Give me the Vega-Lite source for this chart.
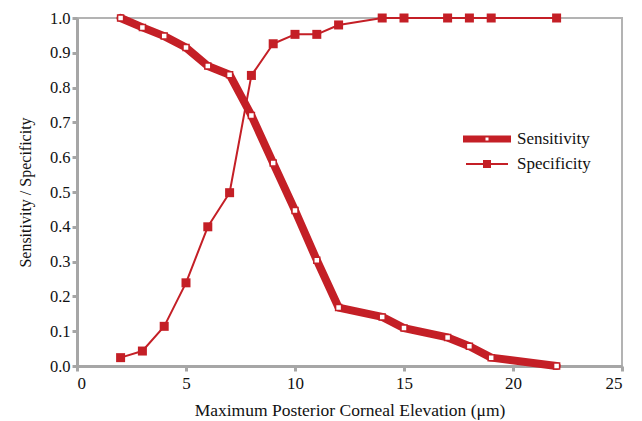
{
  "$schema": "https://vega.github.io/schema/vega-lite/v6.json",
  "width": 545,
  "height": 348,
  "autosize": {"type": "none"},
  "padding": {"left": 77, "top": 18, "right": 20, "bottom": 55},
  "background": "white",
  "config": {
    "view": {"stroke": "#b3b3b3", "strokeWidth": 2},
    "font": "Liberation Serif, serif",
    "axis": {
      "domainColor": "#a6a6a6",
      "domainWidth": 3,
      "tickColor": "#a6a6a6",
      "tickWidth": 3,
      "tickSize": 5,
      "grid": false,
      "labelFont": "Liberation Serif, serif",
      "labelColor": "#111111",
      "titleFont": "Liberation Serif, serif",
      "titleFontWeight": "normal",
      "titleColor": "#111111"
    }
  },
  "data": {
    "values": [
      {"x": 2, "value": 1.0, "series": "Sensitivity"},
      {"x": 3, "value": 0.973, "series": "Sensitivity"},
      {"x": 4, "value": 0.948, "series": "Sensitivity"},
      {"x": 5, "value": 0.915, "series": "Sensitivity"},
      {"x": 6, "value": 0.862, "series": "Sensitivity"},
      {"x": 7, "value": 0.837, "series": "Sensitivity"},
      {"x": 8, "value": 0.72, "series": "Sensitivity"},
      {"x": 9, "value": 0.583, "series": "Sensitivity"},
      {"x": 10, "value": 0.447, "series": "Sensitivity"},
      {"x": 11, "value": 0.304, "series": "Sensitivity"},
      {"x": 12, "value": 0.168, "series": "Sensitivity"},
      {"x": 14, "value": 0.141, "series": "Sensitivity"},
      {"x": 15, "value": 0.109, "series": "Sensitivity"},
      {"x": 17, "value": 0.082, "series": "Sensitivity"},
      {"x": 18, "value": 0.057, "series": "Sensitivity"},
      {"x": 19, "value": 0.024, "series": "Sensitivity"},
      {"x": 22, "value": 0.0, "series": "Sensitivity"},
      {"x": 2, "value": 0.024, "series": "Specificity"},
      {"x": 3, "value": 0.043, "series": "Specificity"},
      {"x": 4, "value": 0.114, "series": "Specificity"},
      {"x": 5, "value": 0.239, "series": "Specificity"},
      {"x": 6, "value": 0.4, "series": "Specificity"},
      {"x": 7, "value": 0.498, "series": "Specificity"},
      {"x": 8, "value": 0.835, "series": "Specificity"},
      {"x": 9, "value": 0.926, "series": "Specificity"},
      {"x": 10, "value": 0.953, "series": "Specificity"},
      {"x": 11, "value": 0.953, "series": "Specificity"},
      {"x": 12, "value": 0.98, "series": "Specificity"},
      {"x": 14, "value": 1.0, "series": "Specificity"},
      {"x": 15, "value": 1.0, "series": "Specificity"},
      {"x": 17, "value": 1.0, "series": "Specificity"},
      {"x": 18, "value": 1.0, "series": "Specificity"},
      {"x": 19, "value": 1.0, "series": "Specificity"},
      {"x": 22, "value": 1.0, "series": "Specificity"}
    ]
  },
  "encoding": {
    "x": {
      "field": "x",
      "type": "quantitative",
      "scale": {"domain": [0, 25], "nice": false},
      "axis": {
        "title": "Maximum Posterior Corneal Elevation (μm)",
        "values": [0, 5, 10, 15, 20, 25],
        "labelFont": "Liberation Serif, serif",
        "labelFontSize": 17,
        "titleFontSize": 17.5,
        "labelPadding": 4,
        "titlePadding": 10
      }
    },
    "y": {
      "field": "value",
      "type": "quantitative",
      "scale": {"domain": [0, 1], "nice": false},
      "axis": {
        "title": "Sensitivity / Specificity",
        "values": [0, 0.1, 0.2, 0.3, 0.4, 0.5, 0.6, 0.7, 0.8, 0.9, 1.0],
        "format": ".1f",
        "labelFont": "Liberation Serif, serif",
        "labelFontSize": 16.5,
        "titleFontSize": 16,
        "labelPadding": 2,
        "titlePadding": 16
      }
    }
  },
  "layer": [
    {
      "transform": [{"filter": "datum.series === 'Sensitivity'"}],
      "mark": {"type": "line", "strokeWidth": 8, "strokeJoin": "round", "strokeCap": "round"},
      "encoding": {
        "color": {
          "field": "series",
          "type": "nominal",
          "scale": {"domain": ["Sensitivity", "Specificity"], "range": ["#c41f26", "#c41f26"]},
          "legend": {
            "orient": "none",
            "legendX": 400,
            "legendY": 111,
            "title": null,
            "labelFont": "Liberation Serif, serif",
            "labelFontSize": 17,
            "labelColor": "#111111",
            "symbolSize": 400,
            "symbolStrokeWidth": 0,
            "labelOffset": 20,
            "rowPadding": 7,
            "encode": {
              "symbols": {
                "update": {
                  "shape": {"signal": "datum.value === 'Sensitivity' ? 'M-2.4,-0.36L2.4,-0.36L2.4,0.36L-2.4,0.36Z M-0.15,-0.15L-0.15,0.15L0.15,0.15L0.15,-0.15Z' : 'M-2.1,-0.1L2.1,-0.1L2.1,0.1L-2.1,0.1Z M-0.4,-0.4L0.4,-0.4L0.4,0.4L-0.4,0.4Z'"},
                  "fill": {"value": "#c41f26"},
                  "stroke": {"value": "transparent"},
                  "opacity": {"value": 1}
                }
              }
            }
          }
        }
      }
    },
    {
      "transform": [{"filter": "datum.series === 'Sensitivity'"}],
      "mark": {"type": "point", "shape": "square", "filled": false, "fill": "white", "stroke": "#c41f26", "size": 36, "strokeWidth": 1.5, "opacity": 1}
    },
    {
      "transform": [{"filter": "datum.series === 'Specificity'"}],
      "mark": {"type": "line", "strokeWidth": 2, "strokeJoin": "round"},
      "encoding": {
        "color": {"field": "series", "type": "nominal"}
      }
    },
    {
      "transform": [{"filter": "datum.series === 'Specificity'"}],
      "mark": {"type": "point", "shape": "square", "filled": true, "fill": "#c41f26", "size": 81, "strokeWidth": 0, "opacity": 1}
    }
  ]
}
